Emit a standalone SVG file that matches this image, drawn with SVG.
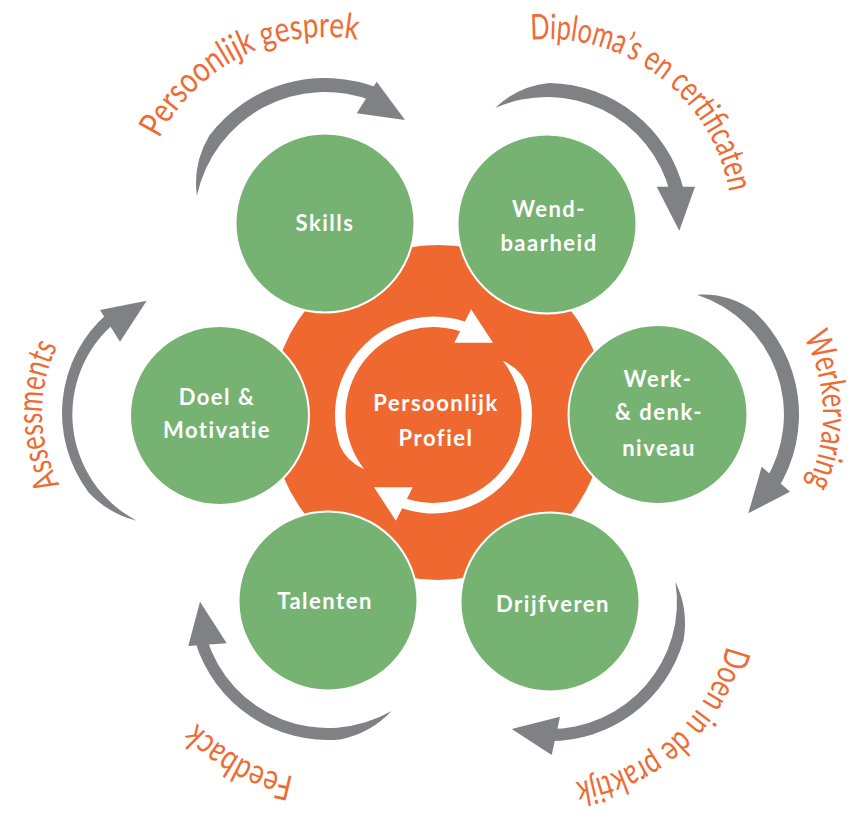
<svg xmlns="http://www.w3.org/2000/svg" width="858" height="815" viewBox="0 0 858 815">
<style>
.gc{fill:#76B272;stroke:#fff;stroke-width:2}
.nt{font-family:Lato,"Open Sans","Liberation Sans",sans-serif;font-weight:700;font-size:22px;letter-spacing:1.5px;fill:#fff;text-anchor:middle}
.arr{fill:#808185}
.lbl{font-family:Lato,"Open Sans","Liberation Sans",sans-serif;font-weight:400;font-size:35px;fill:#EE6B34}
.warr{fill:#fff}
.guide{fill:none;stroke:none}
</style>
<defs>
<g id="cyc">
<path class="warr" d="M364.2,469.2 Q346.5,461.2 339.8,445.4 A98.5,98.5 0 0 1 470.4,323.7 L466.5,333.4 A88,88 0 0 0 364.2,469.2 Z"/>
<polygon class="warr" points="454.3,342.7 471.1,309.3 493,342.7"/>
</g>
<path id="p1" class="guide" d="M154.4,148.8 A186,186 0 0 1 368.4,42.1"/>
<path id="p2" class="guide" d="M514.9,41.8 A185,185 0 0 1 731.3,207.9"/>
<path id="p3" class="guide" d="M795.6,323.4 A165,165 0 0 1 800.2,498.2"/>
<path id="p4" class="guide" d="M729.8,630.5 A182,182 0 0 1 559.5,783.7"/>
<path id="p5" class="guide" d="M309.3,779 A179,179 0 0 1 186.9,711.2"/>
<path id="p6" class="guide" d="M68,498 A152,152 0 0 1 65.1,332.5"/>
</defs>

<g id="center">
<circle cx="438" cy="412.5" r="167.5" fill="#EE6830"/>
<use href="#cyc"/>
<use href="#cyc" transform="rotate(180 433.5 415)"/>
<text class="nt" x="436" y="411">Persoonlijk</text>
<text class="nt" x="436" y="445.7">Profiel</text>
</g>

<g id="skills">
<circle class="gc" cx="325" cy="223" r="89.5"/>
<text class="nt" x="325" y="231">Skills</text>
</g>
<g id="wendbaarheid">
<circle class="gc" cx="547" cy="224" r="89.5"/>
<text class="nt" x="549" y="216.7">Wend-</text>
<text class="nt" x="549" y="250.7">baarheid</text>
</g>
<g id="werk">
<circle class="gc" cx="658" cy="414.5" r="89.5"/>
<text class="nt" x="658" y="386.7">Werk-</text>
<text class="nt" x="659" y="420">&amp; denk-</text>
<text class="nt" x="659" y="455.7">niveau</text>
</g>
<g id="drijfveren">
<circle class="gc" cx="550" cy="602" r="89.5"/>
<text class="nt" x="553" y="611.7">Drijfveren</text>
</g>
<g id="talenten">
<circle class="gc" cx="328" cy="601" r="89.5"/>
<text class="nt" x="325" y="609.3">Talenten</text>
</g>
<g id="doel">
<circle class="gc" cx="219.5" cy="415.5" r="89.5"/>
<text class="nt" x="217" y="405">Doel &amp;</text>
<text class="nt" x="217" y="438.3">Motivatie</text>
</g>

<g id="connectors">
<g id="arrow-gesprek">
<path class="arr" d="M196.9,195.8 Q192.5,164 209.2,135.7 A145,145 0 0 1 379.3,88.6 L374.1,101.5 A131,131 0 0 0 196.9,195.8 Z"/>
<polygon class="arr" points="376.7,81.7 405,120 356.7,113.3"/>
</g>
<g id="arrow-diploma">
<path class="arr" d="M495.3,108 Q517.7,86.1 549.5,83 A141,141 0 0 1 683.8,189.9 L670.2,193.3 A127,127 0 0 0 495.3,108 Z"/>
<polygon class="arr" points="656.7,186.7 695,186.7 679.3,230.7"/>
</g>
<g id="arrow-werkervaring">
<path class="arr" d="M696.9,294.7 Q728.5,292.4 754.2,311.4 A141,141 0 0 1 777.6,489.2 L764.8,481.3 A126,126 0 0 0 696.9,294.7 Z"/>
<polygon class="arr" points="761.7,466.7 790,491.7 748.3,513.3"/>
</g>
<g id="arrow-praktijk">
<path class="arr" d="M675.4,582.1 Q688.8,609.3 683.6,640.3 A139,139 0 0 1 547.6,741 L547.8,729 A127,127 0 0 0 675.4,582.1 Z"/>
<polygon class="arr" points="560,716.7 511.7,729 551.7,755"/>
</g>
<g id="arrow-feedback">
<path class="arr" d="M391.5,711 Q370.9,733.2 340.1,739.5 A139,139 0 0 1 195.1,641.6 L206.6,638.1 A127,127 0 0 0 391.5,711 Z"/>
<polygon class="arr" points="188.3,646 200,601.7 226.7,643.3"/>
</g>
<g id="arrow-assessments">
<path class="arr" d="M136.7,520.7 Q109.2,514.1 88.6,492.4 A132,132 0 0 1 107.4,313.4 L115.3,322.4 A120,120 0 0 0 136.7,520.7 Z"/>
<polygon class="arr" points="100,310 146.7,300.7 120,341.7"/>
</g>
</g>

<g id="labels">
<text class="lbl"><textPath href="#p1" startOffset="11.4" textLength="237" lengthAdjust="spacingAndGlyphs">Persoonlijk gesprek</textPath></text>
<text class="lbl"><textPath href="#p2" startOffset="16.1" textLength="274.5" lengthAdjust="spacingAndGlyphs">Diploma’s en certificaten</textPath></text>
<text class="lbl"><textPath href="#p3" startOffset="15.8" textLength="152.6" lengthAdjust="spacingAndGlyphs">Werkervaring</textPath></text>
<text class="lbl"><textPath href="#p4" startOffset="15.9" textLength="216" lengthAdjust="spacingAndGlyphs">Doen in de praktijk</textPath></text>
<text class="lbl"><textPath href="#p5" startOffset="15.6" textLength="112.5" lengthAdjust="spacingAndGlyphs">Feedback</textPath></text>
<text class="lbl"><textPath href="#p6" startOffset="15.9" textLength="143.3" lengthAdjust="spacingAndGlyphs">Assessments</textPath></text>
</g>
</svg>
